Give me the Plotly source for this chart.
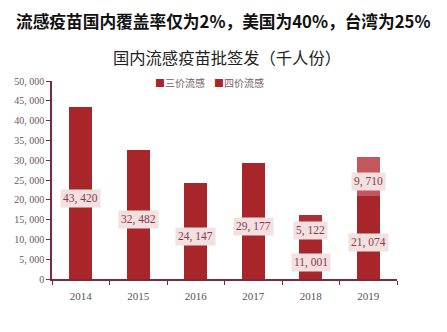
import plotly.graph_objects as go

# Flu vaccine batch releases in China (thousand doses)
years = ["2014", "2015", "2016", "2017", "2018", "2019"]
trivalent = [43420, 32482, 24147, 29177, 11001, 21074]
quadrivalent = [None, None, None, None, 5122, 9710]

y_tick_vals = [0, 5000, 10000, 15000, 20000, 25000, 30000, 35000, 40000, 45000, 50000]
y_tick_text = ["0", "5, 000", "10, 000", "15, 000", "20, 000", "25, 000",
               "30, 000", "35, 000", "40, 000", "45, 000", "50, 000"]

DARK = "#a8262a"
LIGHT = "#c2575c"
AXIS = "#7a2a3a"
LABEL_BG = "#f3e0e0"
LABEL_FG = "#8b3a4a"
SERIF = "Liberation Serif, DejaVu Serif, serif"
CJK = "Noto Sans CJK SC, sans-serif"

quad_colors = [DARK, DARK, DARK, DARK, "#ad2e34", LIGHT]

fig = go.Figure()
fig.add_trace(go.Bar(x=years, y=trivalent, name="三价流感",
                     marker=dict(color=DARK, line=dict(width=0)),
                     showlegend=False, hoverinfo="x+y"))
fig.add_trace(go.Bar(x=years, y=quadrivalent, name="四价流感",
                     marker=dict(color=quad_colors, line=dict(width=0)),
                     showlegend=False, hoverinfo="x+y"))


def fmt(v):
    return f"{v:,}".replace(",", ", ")


W, H = 447, 332
L, R, T, B = 52, 50, 81, 53
pw, ph = W - L - R, H - T - B


def px_x(x):
    return (x - L) / pw


def px_y(y):
    return (H - B - y) / ph


# value boxes centred on each stacked segment (x given as category index)
label_font = dict(family=SERIF, size=11.5, color=LABEL_FG)
for i, (t, q) in enumerate(zip(trivalent, quadrivalent)):
    fig.add_annotation(x=i, y=t / 2, xref="x", yref="y", text=fmt(t),
                       showarrow=False, yshift=-5, font=label_font,
                       bgcolor=LABEL_BG, borderpad=2)
    if q:
        fig.add_annotation(x=i, y=t + q / 2, xref="x", yref="y", text=fmt(q),
                           showarrow=False, yshift=-5, font=label_font,
                           bgcolor=LABEL_BG, borderpad=2)

# headline and chart title
fig.add_annotation(x=px_x(W / 2), y=px_y(21), xref="paper", yref="paper",
                   text="<b>流感疫苗国内覆盖率仅为2%，美国为40%，台湾为25%</b>",
                   showarrow=False, yanchor="middle",
                   font=dict(family=CJK, size=16.7, color="#111111"))
fig.add_annotation(x=px_x(W / 2 + 3), y=px_y(57), xref="paper", yref="paper",
                   text="国内流感疫苗批签发（千人份）",
                   showarrow=False, yanchor="middle",
                   font=dict(family=CJK, size=16.3, color="#222222"))

# compact legend
fig.add_annotation(x=px_x(153), y=px_y(83), xref="paper", yref="paper",
                   text=(f"<span style='color:{DARK}'>■</span>三价流感"
                         f"&nbsp;&nbsp;&nbsp;&nbsp;<span style='color:{DARK}'>■</span>四价流感"),
                   showarrow=False, xanchor="left", yanchor="middle",
                   font=dict(family=CJK, size=10, color="#7a5a6a"))

fig.update_layout(
    width=W, height=H,
    margin=dict(l=L, r=R, t=T, b=B),
    barmode="stack", bargap=0.6,
    plot_bgcolor="white", paper_bgcolor="white",
    showlegend=False,
)
fig.update_xaxes(type="category", range=[-0.5, len(years) - 0.5],
                 showline=True, linecolor=AXIS, linewidth=1.5,
                 ticks="outside", tickson="boundaries", ticklen=4, tickcolor=AXIS,
                 tickfont=dict(family=SERIF, size=11, color="#555555"),
                 ticklabelstandoff=6,
                 tickangle=0, showgrid=False, zeroline=False)
fig.update_yaxes(range=[0, 50000], tickvals=y_tick_vals, ticktext=y_tick_text,
                 showline=True, linecolor=AXIS, linewidth=1.5,
                 ticks="outside", ticklen=4, tickcolor=AXIS,
                 tickfont=dict(family=SERIF, size=10, color="#6e5560"),
                 showgrid=False, zeroline=False)

fig.write_html("out.html")
